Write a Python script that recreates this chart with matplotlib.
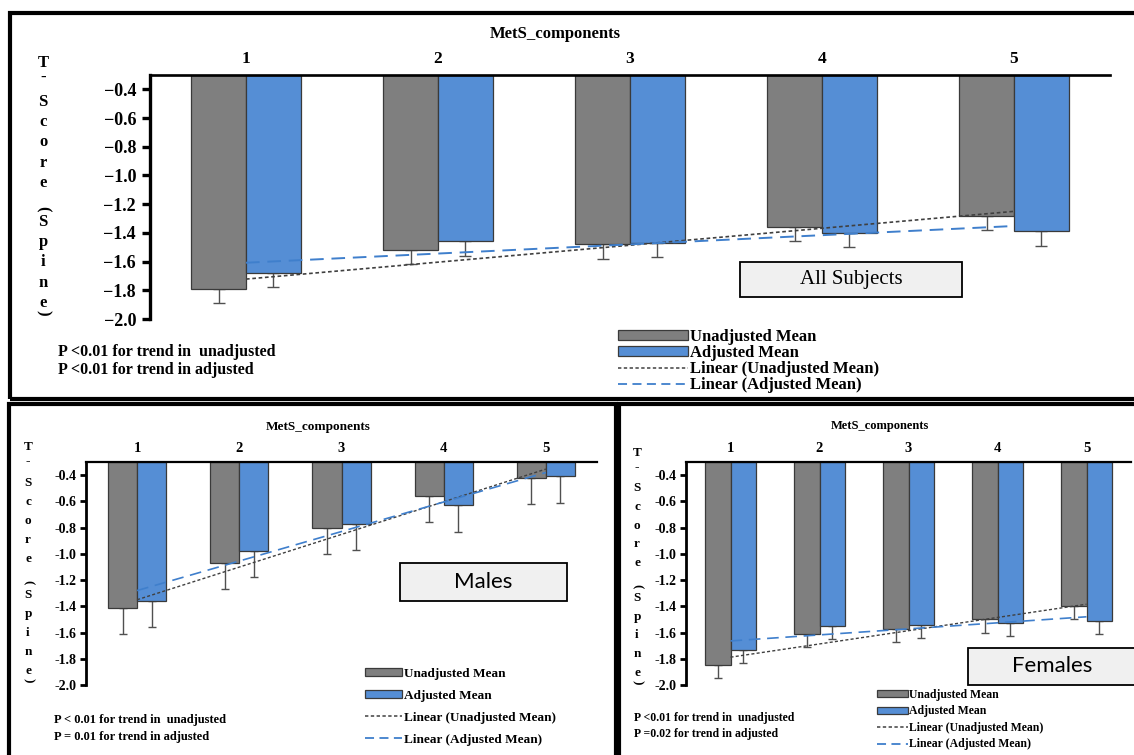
import numpy as np
import matplotlib.pyplot as plt
from matplotlib.patches import Rectangle, Patch
from matplotlib.lines import Line2D

plt.rcParams['font.family'] = ['Liberation Serif', 'DejaVu Serif']

W, H = 1134, 755

components = ['1', '2', '3', '4', '5']
y_ticks = [-0.4, -0.6, -0.8, -1.0, -1.2, -1.4, -1.6, -1.8, -2.0]

all_unadj = [-1.79, -1.52, -1.48, -1.36, -1.28]
all_adj = [-1.68, -1.46, -1.47, -1.40, -1.39]
all_unadj_err = [0.10, 0.10, 0.10, 0.10, 0.10]
all_adj_err = [0.10, 0.10, 0.10, 0.10, 0.10]

male_unadj = [-1.41, -1.07, -0.80, -0.56, -0.42]
male_adj = [-1.36, -0.98, -0.77, -0.63, -0.41]
male_unadj_err = [0.20, 0.20, 0.20, 0.20, 0.20]
male_adj_err = [0.20, 0.20, 0.20, 0.20, 0.20]

female_unadj = [-1.85, -1.61, -1.57, -1.50, -1.40]
female_adj = [-1.73, -1.55, -1.54, -1.53, -1.51]
female_unadj_err = [0.10, 0.10, 0.10, 0.10, 0.10]
female_adj_err = [0.10, 0.10, 0.10, 0.10, 0.10]

legend_labels = ['Unadjusted Mean', 'Adjusted Mean',
                 'Linear (Unadjusted Mean)', 'Linear (Adjusted Mean)']

GREY = '#7f7f7f'
BLUE = '#558ed5'
EDGE = '#3a3a3a'
TREND_U = '#404040'
TREND_A = '#3f7fcc'
TOP = -0.3


def fx(x):
    return x / W


def fy(y):
    return 1 - y / H


def frame(fig, l, t, r, b, lw):
    fig.add_artist(Rectangle((fx(l), fy(b)), fx(r - l), (b - t) / H, transform=fig.transFigure,
                             fill=False, edgecolor='black', linewidth=lw, clip_on=False))


def ylabel_letters(fig, x, y0, y1, size):
    # stacked letters, brackets turned on their side like the Excel vertical title
    chars = list('T-Score(Spine)')
    gaps = [0.75, 1.15, 1, 1, 1, 1, 1.25, 0.65, 1, 1, 1, 1, 0.5]
    pos = np.concatenate([[0], np.cumsum(gaps)])
    pos = pos / pos[-1]
    for c, p in zip(chars, pos):
        rot = -90 if c in '()' else 0
        fig.text(fx(x), fy(y0 + p * (y1 - y0)), c, ha='center', va='center',
                 fontsize=size, fontweight='bold', rotation=rot)


def draw_panel(fig, box, unadj, adj, err_u, err_a, s):
    l, t, r, b = box
    ax = fig.add_axes([fx(l), fy(b), fx(r - l), (b - t) / H])
    x = np.arange(1, len(components) + 1)
    w = 0.285
    u = np.array(unadj)
    a = np.array(adj)
    ax.errorbar(x - w / 2, u, yerr=[err_u, np.zeros(len(u))], fmt='none', ecolor='#505050',
                elinewidth=1.0, capsize=s['cap'], capthick=1.0, zorder=1)
    ax.errorbar(x + w / 2, a, yerr=[err_a, np.zeros(len(a))], fmt='none', ecolor='#505050',
                elinewidth=1.0, capsize=s['cap'], capthick=1.0, zorder=1)
    ax.bar(x - w / 2, u - TOP, bottom=TOP, width=w, color=GREY, edgecolor=EDGE,
           linewidth=0.9, zorder=2)
    ax.bar(x + w / 2, a - TOP, bottom=TOP, width=w, color=BLUE, edgecolor=EDGE,
           linewidth=0.9, zorder=2)

    fit_u = np.polyfit(x, u, 1)
    fit_a = np.polyfit(x, a, 1)
    ax.plot(x, np.polyval(fit_u, x), color=TREND_U, linestyle=(0, (2.2, 1.6)),
            linewidth=s['tlw'], zorder=3)
    ax.plot(x, np.polyval(fit_a, x), color=TREND_A, linestyle=(0, (7, 4)),
            linewidth=s['tlw'] + 0.2, zorder=3)

    ax.set_xlim(0.5, 5.5)
    ax.set_ylim(-2.0, TOP)
    ax.set_yticks(y_ticks)
    ax.set_yticklabels([s['minus'] + '%.1f' % abs(v) for v in y_ticks],
                       fontsize=s['ytick'], fontweight='bold')
    ax.set_xticks(x)
    ax.set_xticklabels(components, fontsize=s['xtick'], fontweight='bold')
    ax.xaxis.tick_top()
    ax.tick_params(axis='x', length=0, pad=s['xpad'])
    ax.tick_params(axis='y', direction='out', length=s['tlen'], width=s['spine'], pad=s['ypad'])
    ax.spines['bottom'].set_visible(False)
    ax.spines['right'].set_visible(False)
    ax.spines['left'].set_linewidth(s['spine'])
    ax.spines['top'].set_linewidth(s['spine'] * 0.8)
    ax.set_facecolor('none')

    tx, ty = s['title']
    fig.text(fx(tx), fy(ty), 'MetS_components', ha='center', va='center',
             fontsize=s['tsize'], fontweight='bold')
    ylabel_letters(fig, s['ylx'], s['yly0'], s['yly1'], s['ylsize'])

    px, py0, py1 = s['ptext']
    for yy, txt in zip((py0, py1), s['plines']):
        fig.text(fx(px), fy(yy), txt, ha='left', va='center', fontsize=s['psize'], fontweight='bold')

    handles = [Patch(facecolor=GREY, edgecolor=EDGE, linewidth=0.9),
               Patch(facecolor=BLUE, edgecolor=EDGE, linewidth=0.9),
               Line2D([], [], color=TREND_U, linestyle=(0, (2.2, 1.6)), linewidth=1.1),
               Line2D([], [], color=TREND_A, linestyle=(0, (5, 3)), linewidth=1.3)]
    lx, ly = s['legend']
    fig.legend(handles, legend_labels, loc='upper left', bbox_to_anchor=(fx(lx), fy(ly)),
               frameon=False, prop={'size': s['lsize'], 'weight': 'bold'},
               handlelength=s['hlen'], handleheight=0.55, labelspacing=s['lspace'],
               handletextpad=0.15, borderpad=0, borderaxespad=0)

    bl, bt, br, bb = s['box']
    fig.add_artist(Rectangle((fx(bl), fy(bb)), fx(br - bl), (bb - bt) / H, transform=fig.transFigure,
                             facecolor='#f0f0f0', edgecolor='black', linewidth=1.3))
    fig.text(fx((bl + br) / 2), fy((bt + bb) / 2), s['label'], ha='center', va='center',
             fontsize=s['bsize'], family=s['bfont'])
    return ax


fig = plt.figure(figsize=(W / 100, H / 100), dpi=100)
fig.patch.set_facecolor('white')

frame(fig, 10, 13, 1140, 399, 3)
frame(fig, 9, 404, 616, 760, 3)
frame(fig, 619, 404, 1140, 760, 3)

top_style = dict(cap=4, tlw=1.2, minus='\u2212', ytick=13, xtick=12.5, xpad=6, tlen=6, spine=2.4,
                 ypad=4, title=(555, 34), tsize=12, ylx=43, yly0=63, yly1=313, ylsize=12,
                 ptext=(58, 352, 370), psize=11.5,
                 plines=['P <0.01 for trend in  unadjusted', 'P <0.01 for trend in adjusted'],
                 legend=(618, 329), lsize=12, hlen=4.2, lspace=0.0,
                 box=(740, 262, 962, 297), label='All Subjects', bsize=15, bfont='Liberation Serif')
draw_panel(fig, (150, 75, 1110, 319), all_unadj, all_adj, all_unadj_err, all_adj_err, top_style)

male_style = dict(cap=3, tlw=1.0, minus='-', ytick=10, xtick=10.5, xpad=5, tlen=4, spine=2.0,
                  ypad=3, title=(318, 427), tsize=9.5, ylx=28, yly0=447, yly1=680, ylsize=9.5,
                  ptext=(54, 720, 737), psize=9,
                  plines=['P < 0.01 for trend in  unadjusted', 'P = 0.01 for trend in adjusted'],
                  legend=(365, 668), lsize=9.5, hlen=2.8, lspace=0.75,
                  box=(400, 563, 567, 601), label='Males', bsize=16, bfont='Lato')
draw_panel(fig, (86, 462, 597, 685), male_unadj, male_adj, male_unadj_err, male_adj_err, male_style)

female_style = dict(cap=3, tlw=1.0, minus='-', ytick=10, xtick=10.5, xpad=5, tlen=4, spine=2.0,
                    ypad=3, title=(880, 426), tsize=9, ylx=637, yly0=453, yly1=682, ylsize=9.5,
                    ptext=(634, 718, 734), psize=8.5,
                    plines=['P <0.01 for trend in  unadjusted', 'P =0.02 for trend in adjusted'],
                    legend=(877, 689), lsize=8.5, hlen=2.6, lspace=0.38,
                    box=(968, 648, 1136, 685), label='Females', bsize=16, bfont='Lato')
draw_panel(fig, (686, 462, 1131, 685), female_unadj, female_adj, female_unadj_err, female_adj_err,
           female_style)

fig.savefig('out.png', dpi=100)
